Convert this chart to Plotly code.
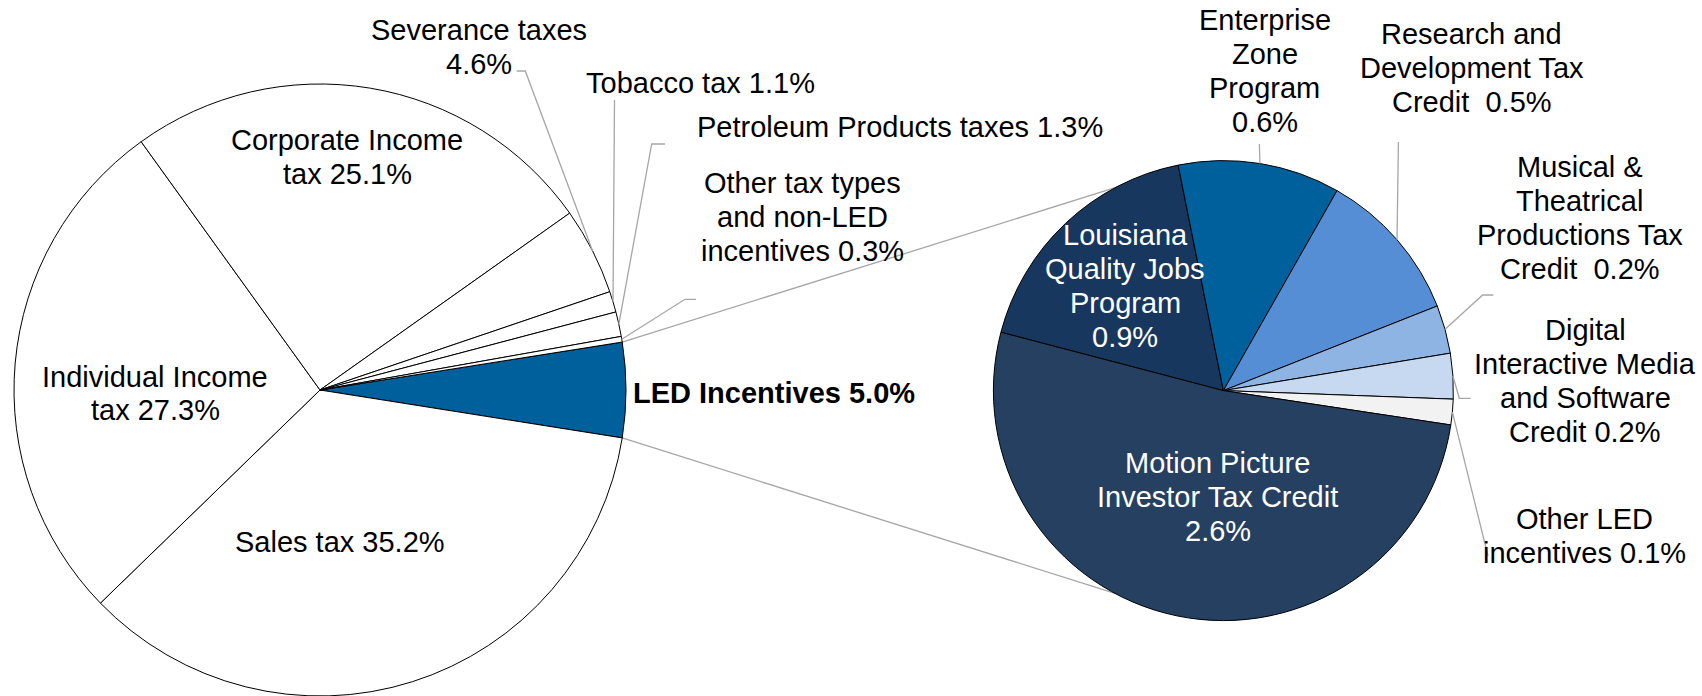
import math
import plotly.graph_objects as go

W, H = 1702, 696

# ---------------- data ----------------
main_labels = ["LED Incentives", "Sales tax", "Individual Income tax", "Corporate Income tax",
               "Severance taxes", "Tobacco tax", "Petroleum Products taxes",
               "Other tax types and non-LED incentives"]
main_values = [5.0, 35.2, 27.3, 25.1, 4.6, 1.1, 1.3, 0.3]
main_text = [["<b>LED Incentives 5.0%</b>"], ["Sales tax 35.2%"], ["Individual Income", "tax 27.3%"],
             ["Corporate Income", "tax 25.1%"], ["Severance taxes", "4.6%"], ["Tobacco tax 1.1%"],
             ["Petroleum Products taxes 1.3%"], ["Other tax types", "and non-LED", "incentives 0.3%"]]
main_colors = ["#00609C", "#FFFFFF", "#FFFFFF", "#FFFFFF", "#FFFFFF", "#FFFFFF", "#FFFFFF", "#FFFFFF"]

led_labels = ["Louisiana Quality Jobs Program", "Enterprise Zone Program",
              "Research and Development Tax Credit", "Musical & Theatrical Productions Tax Credit",
              "Digital Interactive Media and Software Credit", "Other LED incentives",
              "Motion Picture Investor Tax Credit"]
led_values = [0.89, 0.57, 0.54, 0.17, 0.16, 0.09, 2.59]
led_text = [["Louisiana", "Quality Jobs", "Program", "0.9%"], ["Enterprise", "Zone", "Program", "0.6%"],
            ["Research and", "Development Tax", "Credit  0.5%"],
            ["Musical &", "Theatrical", "Productions Tax", "Credit  0.2%"],
            ["Digital", "Interactive Media", "and Software", "Credit 0.2%"],
            ["Other LED", "incentives 0.1%"], ["Motion Picture", "Investor Tax Credit", "2.6%"]]
led_colors = ["#17375E", "#00609C", "#558ED5", "#8EB4E3", "#C6D9F1", "#F2F2F2", "#254061"]

# ---------------- layout constants ----------------
FONT = "Liberation Sans, Arial, sans-serif"
FS = 29
LINE_H = 34
GRAY = "#A6A6A6"

L_CX, L_CY, L_R = 320.0, 390.0, 306.0
R_CX, R_CY, R_R = 1223.4, 390.6, 230.0
rot_L = 90 - 180.0 * main_values[0] / sum(main_values)
rot_R = 90 - 165.3

main_pos = [(774.3, 393.3), (340.4, 542.4), (155, 393.5), (347.3, 156.5), (479.3, 46.6),
            (700, 83.3), (899.5, 126.7), (802.5, 216.7)]
main_font_col = ["black"] * 8
led_pos = [(1125.3, 285.7), (1264.9, 71), (1471.8, 67.9), (1579.7, 217.6), (1585, 380.6),
           (1584.7, 535.5), (1217.9, 497.1)]
led_font_col = ["white", "black", "black", "black", "black", "black", "white"]

main_leaders = {4: [(525.3, 71), (516.7, 71)], 5: [(614.5, 100)],
                6: [(651.7, 144), (665, 144)], 7: [(685, 299.3), (696, 299.3)]}
led_leaders = {1: [(1259.4, 144)], 2: [(1398.4, 142)], 3: [(1482.7, 295), (1493.3, 295)],
               4: [(1459.3, 398.3), (1470.7, 398.3)], 5: [(1488, 556)]}


def px(x):
    return x / W


def py(y):
    return 1 - y / H


def domain(cx, cy, r):
    return dict(x=[max(0, px(cx - r)), min(1, px(cx + r))],
                y=[max(0, (H - cy - r) / H), min(1, (H - cy + r) / H)])


def mid_angles(values, rot):
    tot = sum(values)
    out, cum = [], 0.0
    for v in values:
        cw = rot + 360.0 * (cum + v / 2) / tot
        out.append(90 - cw)
        cum += v
    return out


def on_circle(cx, cy, r, deg):
    a = math.radians(deg)
    return (cx + r * math.cos(a), cy - r * math.sin(a))


fig = go.Figure()
fig.add_trace(go.Pie(values=main_values, labels=main_labels, sort=False, direction="clockwise",
                     rotation=rot_L, textinfo="none", hoverinfo="label+percent",
                     marker=dict(colors=main_colors, line=dict(color="black", width=1)),
                     domain=domain(L_CX, L_CY, L_R), showlegend=False))
fig.add_trace(go.Pie(values=led_values, labels=led_labels, sort=False, direction="clockwise",
                     rotation=rot_R, textinfo="none", hoverinfo="label+value",
                     marker=dict(colors=led_colors, line=dict(color="black", width=1)),
                     domain=domain(R_CX, R_CY, R_R), showlegend=False))

shapes = []


def path_shape(pts, layer="above"):
    d = "M " + " L ".join(f"{px(x):.6f},{py(y):.6f}" for x, y in pts)
    return dict(type="path", path=d, xref="paper", yref="paper", layer=layer,
                line=dict(color=GRAY, width=1.3))


# leader lines
ma = mid_angles(main_values, rot_L)
for i, pts in main_leaders.items():
    start = on_circle(L_CX, L_CY, L_R, ma[i])
    shapes.append(path_shape([start] + pts))
la = mid_angles(led_values, rot_R)
for i, pts in led_leaders.items():
    start = on_circle(R_CX, R_CY, R_R, la[i])
    shapes.append(path_shape([start] + pts))

# connector lines (tangents from LED slice edges to the secondary pie)
half = 180.0 * main_values[0] / sum(main_values)
for sgn in (1, -1):
    P = on_circle(L_CX, L_CY, L_R, sgn * half)
    vx, vy = P[0] - R_CX, -(P[1] - R_CY)
    d = math.hypot(vx, vy)
    phi = math.degrees(math.atan2(vy, vx))
    alpha = math.degrees(math.acos(R_R / d))
    T = on_circle(R_CX, R_CY, R_R - 4, phi - sgn * alpha)
    shapes.append(path_shape([P, T], layer="below"))

annotations = []


def add_label(lines, pos, color):
    cx, cy = pos
    n = len(lines)
    for k, t in enumerate(lines):
        y = cy + (k - (n - 1) / 2) * LINE_H
        annotations.append(dict(x=px(cx), y=py(y), xref="paper", yref="paper", text=t,
                                showarrow=False, xanchor="center", yanchor="middle",
                                font=dict(family=FONT, size=FS, color=color)))


for lines, pos, c in zip(main_text, main_pos, main_font_col):
    add_label(lines, pos, c)
for lines, pos, c in zip(led_text, led_pos, led_font_col):
    add_label(lines, pos, c)

fig.update_layout(width=W, height=H, margin=dict(l=0, r=0, t=0, b=0),
                  paper_bgcolor="white", plot_bgcolor="white", showlegend=False,
                  shapes=shapes, annotations=annotations)

fig.write_html("out.html", config={"displayModeBar": False},
               post_script="document.body.style.margin='0px';document.body.style.overflow='hidden';")
